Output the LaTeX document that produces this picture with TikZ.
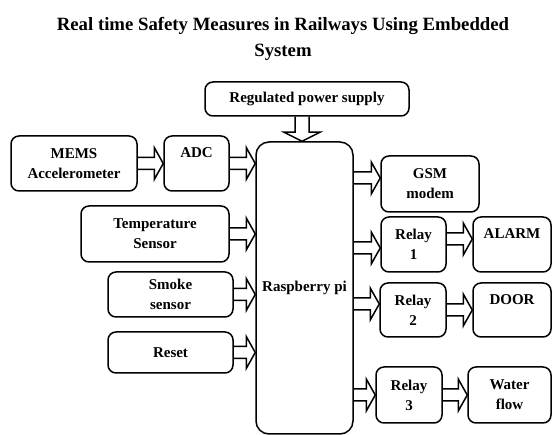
\documentclass[tikz,border=0pt]{standalone}
\usepackage{fontspec}
\setmainfont{Liberation Serif}
\usetikzlibrary{calc}
\tikzset{
        node_box/.style={align=center, draw=black, line width=1.5pt, rounded corners=8pt, inner sep=2pt, font=\bfseries\fontsize{15}{20}\selectfont},
        % Boxes with the text near the top
        node_box_top/.style={node_box, text height=11pt, text depth=22pt},
        % Hollow block arrows
        block_arrow/.style={draw=black, line width=1.5pt},
        % ... to the right
        arrow_right/.style={to path={let \p1=(\tikztostart), \p2=(\tikztotarget) in
            (\x1,\y1+6pt) -- (\x2-9pt,\y1+6pt) -- (\x2-9pt,\y1+16pt) -- (\x2,\y1) -- (\x2-9pt,\y1-16pt) -- (\x2-9pt,\y1-6pt) -- (\x1,\y1-6pt)}},
        % ... downwards
        arrow_down/.style={to path={let \p1=(\tikztostart), \p2=(\tikztotarget) in
            (\x1-7pt,\y1) -- (\x1-7pt,\y2+9pt) -- (\x1-18pt,\y2+9pt) -- (\x1,\y2) -- (\x1+18pt,\y2+9pt) -- (\x1+7pt,\y2+9pt) -- (\x1+7pt,\y1)}}
}
\begin{document}
\begin{tikzpicture}[x=1pt, y=-1pt]
    \useasboundingbox (0,0) rectangle (552,435);

    \node[align=center, font=\bfseries\fontsize{18.75}{26}\selectfont] (title) at (283,39)
        {Real time Safety Measures in Railways Using Embedded\\System};

    % inputs
    \node[node_box, minimum width=204, minimum height=34] (power) at (307,99) {Regulated power supply};
    \node[node_box, minimum width=126, minimum height=55] (mems) at (74,163.5) {MEMS\\Accelerometer};
    \node[node_box_top, minimum width=65, minimum height=55] (adc) at (196.5,163.5) {ADC};
    \node[node_box, minimum width=148, minimum height=56] (temp) at (155,234) {Temperature\\Sensor};
    \node[node_box, minimum width=125, minimum height=45] (smoke) at (170.5,294.5) {Smoke\\sensor};
    \node[node_box, minimum width=125, minimum height=41] (reset) at (170.5,352.5) {Reset};

    % controller
    \node[node_box, rounded corners=13pt, minimum width=97, minimum height=292] (rpi) at (304.5,288) {Raspberry pi};

    % outputs
    \node[node_box, minimum width=98, minimum height=56] (gsm) at (430,184) {GSM\\modem};
    \node[node_box, minimum width=65, minimum height=55] (relay1) at (413.5,244.5) {Relay\\1};
    \node[node_box_top, minimum width=78, minimum height=55] (alarm) at (512,244.5) {ALARM};
    \node[node_box, minimum width=66, minimum height=54] (relay2) at (413,310) {Relay\\2};
    \node[node_box_top, minimum width=78, minimum height=54] (door) at (512,310) {DOOR};
    \node[node_box, minimum width=66, minimum height=56] (relay3) at (409,395) {Relay\\3};
    \node[node_box, minimum width=83, minimum height=56] (water) at (509.5,395) {Water\\flow};

    \coordinate (power_out) at ([xshift=-5pt]power.south);
    \coordinate (gsm_in) at ([yshift=6pt]gsm.west);
    \coordinate (relay1_in) at ([yshift=-3.5pt]relay1.west);
    \coordinate (relay1_out) at ([yshift=5.5pt]relay1.east);
    \coordinate (relay2_in) at ([yshift=6pt]relay2.west);

    \draw[block_arrow] (power_out) to[arrow_down] (power_out |- rpi.north);
    \draw[block_arrow] (mems.east) to[arrow_right] (adc.west);
    \draw[block_arrow] (adc.east) to[arrow_right] (adc.east -| rpi.west);
    \draw[block_arrow] (temp.east) to[arrow_right] (temp.east -| rpi.west);
    \draw[block_arrow] (smoke.east) to[arrow_right] (smoke.east -| rpi.west);
    \draw[block_arrow] (reset.east) to[arrow_right] (reset.east -| rpi.west);

    \draw[block_arrow] (rpi.east |- gsm_in) to[arrow_right] (gsm_in);
    \draw[block_arrow] (rpi.east |- relay1_in) to[arrow_right] (relay1_in);
    \draw[block_arrow] (relay1_out) to[arrow_right] (relay1_out -| alarm.west);
    \draw[block_arrow] (rpi.east |- relay2_in) to[arrow_right] (relay2_in);
    \draw[block_arrow] (relay2.east) to[arrow_right] (door.west);
    \draw[block_arrow] (rpi.east |- relay3.west) to[arrow_right] (relay3.west);
    \draw[block_arrow] (relay3.east) to[arrow_right] (water.west);
\end{tikzpicture}
\end{document}
